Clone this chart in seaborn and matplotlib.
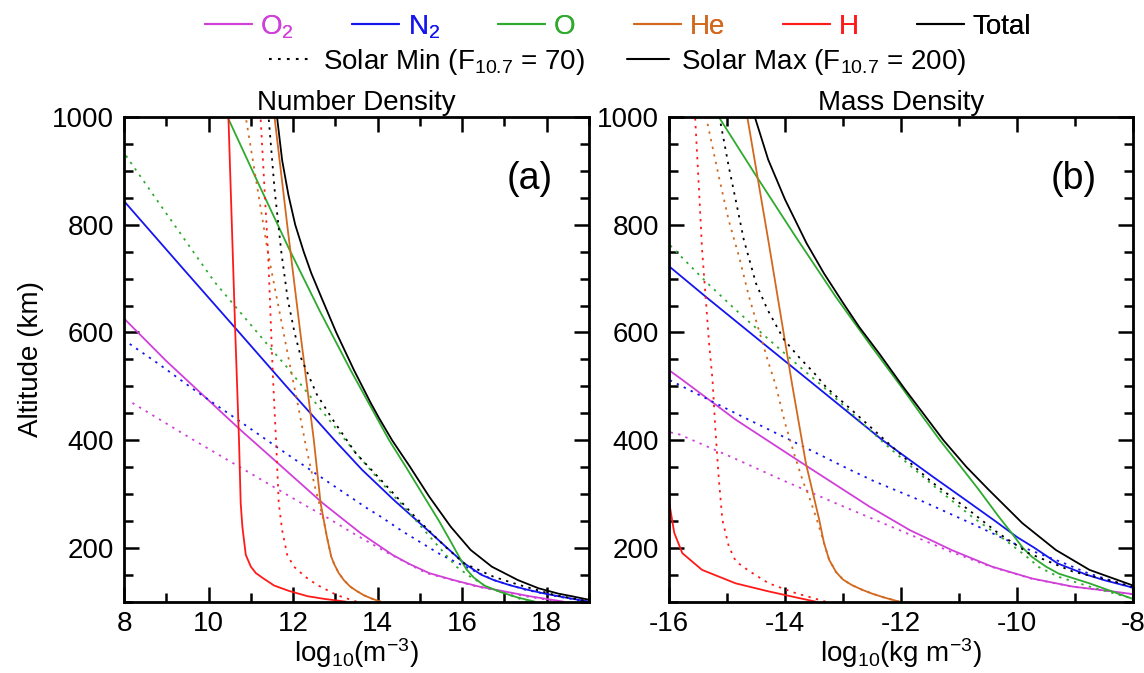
import pandas as pd
import seaborn as sns
import matplotlib.pyplot as plt
from matplotlib.lines import Line2D
from matplotlib.ticker import MultipleLocator

# species order, legend text and colours
species = ['O2', 'N2', 'O', 'He', 'H', 'Total']
labels = ['O$_2$', 'N$_2$', 'O', 'He', 'H', 'Total']
colors = ['#D040D8', '#1515F0', '#2EAA2E', '#D2691E', '#FF1A1A', 'black']

# ---- (a) number density, log10(m^-3) ----
a_o2_max_alt = [100, 110, 128, 140, 153, 170, 187, 227, 283, 360, 420, 547, 626]
a_o2_max = [18.4, 17.6, 16.4, 15.8, 15.22, 14.75, 14.35, 13.6, 12.7, 11.6, 10.74, 9.0, 8.0]
a_o2_min_alt = [100, 110, 128, 153, 190, 227, 255, 280, 320, 360, 400, 470]
a_o2_min = [18.3, 17.5, 16.35, 15.15, 14.25, 13.42, 12.83, 12.26, 11.39, 10.52, 9.65, 8.18]

a_n2_max_alt = [100, 109, 115, 122, 130, 140, 150, 171, 200, 233, 289, 345, 400, 500, 604, 720, 844]
a_n2_max = [19.0, 18.35, 17.95, 17.55, 17.15, 16.75, 16.45, 16.05, 15.64, 15.18, 14.38, 13.63, 12.98, 11.84, 10.68, 9.38, 8.0]
a_n2_min_alt = [100, 109, 122, 140, 162, 187, 230, 258, 274, 320, 376, 436, 494, 541, 586]
a_n2_min = [18.95, 18.3, 17.5, 16.75, 16.15, 15.5, 14.6, 14.07, 13.74, 12.87, 11.82, 10.72, 9.65, 8.83, 8.0]

a_o_max_alt = [100, 108, 118, 130, 145, 160, 180, 210, 250, 300, 350, 400, 470, 530, 640, 756, 873, 1000]
a_o_max = [17.72, 17.3, 16.9, 16.52, 16.27, 16.1, 15.95, 15.74, 15.45, 15.06, 14.67, 14.27, 13.78, 13.36, 12.63, 11.9, 11.2, 10.45]
a_o_min_alt = [100, 128, 147, 165, 221, 271, 320, 382, 535, 564, 694, 830, 920, 934]
a_o_min = [17.55, 16.57, 16.18, 15.86, 15.23, 14.68, 14.1, 13.42, 11.86, 11.54, 10.14, 8.92, 8.12, 8.0]

a_he_max_alt = [100, 106, 112, 120, 128, 140, 153, 170, 184, 220, 283, 400, 600, 800, 1000]
a_he_max = [14.07, 13.85, 13.67, 13.5, 13.35, 13.2, 13.08, 12.97, 12.9, 12.8, 12.65, 12.49, 12.17, 11.86, 11.56]
a_he_min_alt = [100, 106, 112, 120, 128, 140, 153, 170, 184, 220, 252, 312, 386, 467, 541, 750, 885, 1000]
a_he_min = [14.07, 13.85, 13.67, 13.5, 13.35, 13.2, 13.08, 12.97, 12.9, 12.8, 12.72, 12.52, 12.31, 12.11, 11.92, 11.4, 11.12, 10.88]

a_h_max_alt = [100, 105, 110, 120, 130, 143, 153, 165, 187, 239, 283, 400, 604, 1000]
a_h_max = [13.25, 12.75, 12.35, 11.9, 11.55, 11.3, 11.12, 11.0, 10.88, 10.8, 10.76, 10.72, 10.63, 10.47]
a_h_min_alt = [100, 112, 131, 146, 165, 187, 233, 283, 393, 522, 744, 1000]
a_h_min = [13.5, 13.04, 12.57, 12.29, 12.02, 11.86, 11.74, 11.66, 11.6, 11.52, 11.41, 11.23]

a_tot_max_alt = [100, 104, 110, 115, 125, 140, 165, 196, 239, 295, 351, 400, 440, 470, 530, 600, 663, 710, 750, 800, 855, 920, 1000]
a_tot_max = [19.15, 18.97, 18.6, 18.27, 17.8, 17.32, 16.7, 16.2, 15.73, 15.22, 14.76, 14.34, 14.04, 13.83, 13.44, 13.02, 12.68, 12.43, 12.25, 12.05, 11.89, 11.74, 11.62]
a_tot_min_alt = [100, 112, 131, 146, 171, 202, 258, 320, 376, 439, 485, 552, 601, 663, 750, 867, 1000]
a_tot_min = [19.05, 18.2, 17.35, 16.75, 16.05, 15.6, 14.88, 14.15, 13.48, 12.93, 12.56, 12.19, 12.03, 11.87, 11.72, 11.56, 11.42]

# ---- (b) mass density, log10(kg m^-3) ----
b_o2_max_alt = [114, 119, 128, 143, 165, 196, 233, 277, 357, 438, 512, 530]
b_o2_max = [-8.0, -8.35, -9.04, -9.74, -10.43, -11.13, -11.85, -12.55, -13.7, -14.85, -15.77, -16.0]
b_o2_min_alt = [114, 128, 143, 165, 193, 233, 283, 326, 368, 411, 415]
b_o2_min = [-8.02, -9.06, -9.76, -10.45, -11.15, -12.03, -13.13, -14.05, -14.91, -15.83, -16.0]

b_n2_max_alt = [126, 140, 150, 171, 200, 220, 250, 290, 332, 400, 505, 580, 664, 723]
b_n2_max = [-8.0, -8.5, -8.8, -9.3, -9.7, -10.0, -10.38, -10.9, -11.45, -12.32, -13.52, -14.38, -15.34, -16.0]
b_n2_min_alt = [126, 140, 153, 172, 203, 246, 285, 323, 346, 398, 453, 503, 512]
b_n2_min = [-8.02, -8.4, -8.78, -9.2, -9.95, -10.8, -11.6, -12.45, -12.9, -13.87, -14.91, -15.83, -16.0]

b_o_max_alt = [105, 134, 152, 165, 183, 200, 227, 260, 308, 355, 400, 450, 497, 580, 667, 780, 893, 1000]
b_o_max = [-8.0, -8.75, -9.28, -9.5, -9.74, -9.9, -10.09, -10.33, -10.66, -11.0, -11.33, -11.67, -11.98, -12.55, -13.13, -13.83, -14.51, -15.14]
b_o_min_alt = [104, 128, 146, 164, 186, 214, 258, 308, 395, 501, 532, 587, 642, 695, 754, 764]
b_o_min = [-7.95, -8.75, -9.28, -9.62, -9.86, -10.2, -10.78, -11.36, -12.3, -13.36, -13.7, -14.28, -14.85, -15.37, -15.91, -16.0]

b_he_max_alt = [100, 108, 115, 122, 131, 141, 155, 178, 210, 252, 357, 505, 766, 1000]
b_he_max = [-12.03, -12.3, -12.5, -12.67, -12.85, -13.0, -13.12, -13.24, -13.33, -13.41, -13.64, -13.88, -14.28, -14.65]
b_he_min_alt = [100, 108, 115, 122, 131, 141, 155, 178, 210, 252, 300, 320, 370, 432, 502, 542, 604, 666, 740, 808, 889, 1000]
b_he_min = [-12.03, -12.3, -12.5, -12.67, -12.85, -13.0, -13.12, -13.24, -13.33, -13.45, -13.6, -13.68, -13.83, -14.0, -14.16, -14.28, -14.45, -14.62, -14.79, -14.97, -15.14, -15.36]

b_h_max_alt = [100, 110, 119, 134, 159, 190, 228, 286]
b_h_max = [-13.47, -13.9, -14.28, -14.85, -15.43, -15.77, -15.91, -16.0]
b_h_min_alt = [100, 116, 134, 157, 175, 203, 252, 326, 419, 512, 581, 668, 754, 859, 1000]
b_h_min = [-13.3, -13.82, -14.28, -14.62, -14.85, -14.97, -15.08, -15.14, -15.2, -15.25, -15.31, -15.37, -15.43, -15.48, -15.55]

b_tot_max_alt = [130, 159, 196, 246, 308, 350, 400, 450, 497, 560, 610, 655, 710, 766, 847, 921, 1000]
b_tot_max = [-8.0, -8.75, -9.33, -9.91, -10.49, -10.87, -11.27, -11.62, -11.95, -12.37, -12.72, -13.0, -13.33, -13.63, -14.0, -14.29, -14.52]
b_tot_min_alt = [128, 141, 156, 190, 227, 271, 323, 373, 456, 497, 525, 553, 587, 642, 691, 772, 846, 908, 1000]
b_tot_min = [-8.0, -8.46, -9.04, -9.8, -10.32, -10.84, -11.48, -12.0, -12.85, -13.28, -13.5, -13.75, -14.02, -14.3, -14.5, -14.71, -14.85, -14.97, -15.13]

curves_a = {
    ('O2', 'max'): (a_o2_max_alt, a_o2_max), ('O2', 'min'): (a_o2_min_alt, a_o2_min),
    ('N2', 'max'): (a_n2_max_alt, a_n2_max), ('N2', 'min'): (a_n2_min_alt, a_n2_min),
    ('O', 'max'): (a_o_max_alt, a_o_max), ('O', 'min'): (a_o_min_alt, a_o_min),
    ('He', 'max'): (a_he_max_alt, a_he_max), ('He', 'min'): (a_he_min_alt, a_he_min),
    ('H', 'max'): (a_h_max_alt, a_h_max), ('H', 'min'): (a_h_min_alt, a_h_min),
    ('Total', 'max'): (a_tot_max_alt, a_tot_max), ('Total', 'min'): (a_tot_min_alt, a_tot_min),
}
curves_b = {
    ('O2', 'max'): (b_o2_max_alt, b_o2_max), ('O2', 'min'): (b_o2_min_alt, b_o2_min),
    ('N2', 'max'): (b_n2_max_alt, b_n2_max), ('N2', 'min'): (b_n2_min_alt, b_n2_min),
    ('O', 'max'): (b_o_max_alt, b_o_max), ('O', 'min'): (b_o_min_alt, b_o_min),
    ('He', 'max'): (b_he_max_alt, b_he_max), ('He', 'min'): (b_he_min_alt, b_he_min),
    ('H', 'max'): (b_h_max_alt, b_h_max), ('H', 'min'): (b_h_min_alt, b_h_min),
    ('Total', 'max'): (b_tot_max_alt, b_tot_max), ('Total', 'min'): (b_tot_min_alt, b_tot_min),
}


def to_frame(curves):
    rows = []
    for (sp, solar), (alt, val) in curves.items():
        for a, v in zip(alt, val):
            rows.append((sp, solar, a, v))
    return pd.DataFrame(rows, columns=['species', 'solar', 'alt', 'val'])


sns.set_theme(style='ticks')
plt.rcParams['font.family'] = ['Liberation Sans', 'DejaVu Sans']
plt.rcParams['mathtext.fontset'] = 'custom'
plt.rcParams['mathtext.rm'] = 'Liberation Sans'
plt.rcParams['mathtext.it'] = 'Liberation Sans:italic'
plt.rcParams['mathtext.default'] = 'regular'
plt.rcParams['axes.unicode_minus'] = False
for k in ['text.color', 'axes.labelcolor', 'xtick.color', 'ytick.color',
          'xtick.labelcolor', 'ytick.labelcolor']:
    plt.rcParams[k] = 'black'

dotted = (1.3, 3.0)
fs = 20

fig = plt.figure(figsize=(11.44, 6.73), dpi=100)
ax1 = fig.add_axes([0.1084, 0.106, 0.4065, 0.720])
ax2 = fig.add_axes([0.5848, 0.106, 0.4056, 0.720])

panels = [
    (ax1, curves_a, (8, 19), 'Number Density', r'log$_{10}$(m$^{-3}$)', '(a)'),
    (ax2, curves_b, (-16, -8), 'Mass Density', r'log$_{10}$(kg m$^{-3}$)', '(b)'),
]
for ax, curves, xlim, title, xlabel, tag in panels:
    df = to_frame(curves)
    sns.lineplot(data=df, x='val', y='alt', hue='species', style='solar',
                 hue_order=species, palette=colors, style_order=['max', 'min'],
                 dashes={'max': '', 'min': dotted}, orient='y', sort=True,
                 estimator=None, lw=1.3, legend=False, ax=ax)
    ax.set_xlim(*xlim)
    ax.set_ylim(100, 1000)
    ax.xaxis.set_major_locator(MultipleLocator(2))
    ax.xaxis.set_minor_locator(MultipleLocator(1))
    ax.yaxis.set_major_locator(MultipleLocator(200))
    ax.yaxis.set_minor_locator(MultipleLocator(50))
    ax.tick_params(which='both', direction='in', top=True, right=True,
                   width=1.8, labelsize=fs, color='black')
    ax.tick_params(which='major', length=11, pad=7)
    ax.tick_params(which='minor', length=6.5)
    for s in ax.spines.values():
        s.set_linewidth(2)
        s.set_color('black')
    ax.set_title(title, fontsize=fs, pad=5)
    ax.set_xlabel(xlabel, fontsize=fs, labelpad=-1)
    ax.set_ylabel('')
    ax.text(0.922, 0.872, tag, transform=ax.transAxes, ha='right', va='center', fontsize=27)

ax1.set_ylabel('Altitude (km)', fontsize=fs, labelpad=6)

# legend row 1: species
h1 = [Line2D([], [], color=c, lw=1.5) for c in colors]
leg1 = fig.legend(h1, labels, loc='center', bbox_to_anchor=(0.54, 0.96), ncol=6,
                  frameon=False, fontsize=fs, labelcolor=colors, handlelength=1.7,
                  handletextpad=0.3, columnspacing=2.1, borderpad=0, borderaxespad=0)
# legend row 2: solar conditions
h2 = [Line2D([], [], color='black', lw=1.5, ls=(0, dotted)),
      Line2D([], [], color='black', lw=1.5)]
lab2 = ['Solar Min (F$_{10.7}$ = 70)', 'Solar Max (F$_{10.7}$ = 200)']
fig.legend(h2, lab2, loc='center', bbox_to_anchor=(0.54, 0.908), ncol=2,
           frameon=False, fontsize=fs, handlelength=1.5, handletextpad=0.45,
           columnspacing=1.5, borderpad=0, borderaxespad=0)
fig.add_artist(leg1)

fig.savefig('out.png', dpi=100)
